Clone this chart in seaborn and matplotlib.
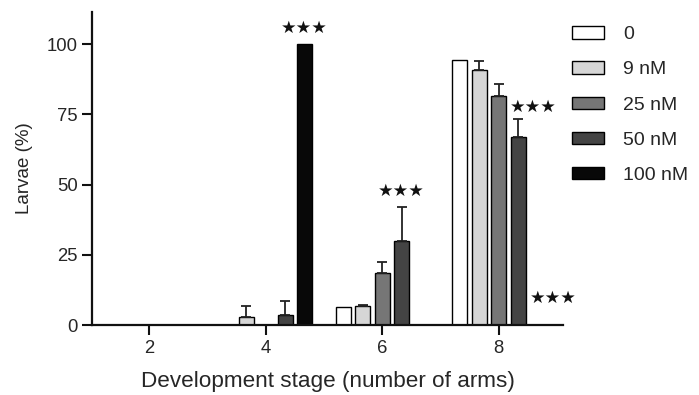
import matplotlib
matplotlib.use("Agg")
import matplotlib.pyplot as plt
import seaborn as sns
import pandas as pd

# Percentage of larvae at each developmental stage per treatment
stages = ["2", "4", "6", "8"]
concentrations = ["0", "9 nM", "25 nM", "50 nM", "100 nM"]
larvae_0 = [0.0, 0.0, 6.3, 94.3]
larvae_9 = [0.0, 3.0, 6.6, 90.7]
larvae_25 = [0.0, 0.0, 18.4, 81.7]
larvae_50 = [0.0, 3.4, 30.0, 66.8]
larvae_100 = [0.0, 100.0, 0.0, 0.0]
sem_0 = [0.0, 0.0, 0.0, 0.0]
sem_9 = [0.0, 3.8, 0.6, 3.3]
sem_25 = [0.0, 0.0, 4.1, 4.3]
sem_50 = [0.0, 5.2, 12.1, 6.7]
sem_100 = [0.0, 0.0, 0.0, 0.0]
# significance marks: (stage, concentration, placement)
significance = [("4", "100 nM", "above"), ("6", "50 nM", "above"),
                ("8", "25 nM", "right"), ("8", "100 nM", "base")]

palette = ["#ffffff", "#d6d6d6", "#767676", "#444444", "#080808"]

values = [larvae_0, larvae_9, larvae_25, larvae_50, larvae_100]
errors = [sem_0, sem_9, sem_25, sem_50, sem_100]
rows = []
for conc, vals, errs in zip(concentrations, values, errors):
    for st, v, e in zip(stages, vals, errs):
        rows.append({"stage": st, "conc": conc, "pct": v, "err": e})
df = pd.DataFrame(rows)

sns.set_style("ticks")
plt.rcParams["font.family"] = ["Liberation Sans", "DejaVu Sans"]

fig = plt.figure(figsize=(6.99, 3.95), dpi=100)
ax = fig.add_axes([0.1316, 0.1772, 0.6738, 0.7924])

sns.barplot(data=df, x="stage", y="pct", hue="conc", order=stages,
            hue_order=concentrations, palette=palette, width=0.835, gap=0.23,
            edgecolor="black", linewidth=1.0, errorbar=None, ax=ax)

# one-sided (upper) error bars
bar_pos = {}
for conc, cont in zip(concentrations, ax.containers):
    for st, patch in zip(stages, cont.patches):
        cx = patch.get_x() + patch.get_width() / 2
        bar_pos[(st, conc)] = (patch.get_x(), patch.get_width())
        row = df[(df["stage"] == st) & (df["conc"] == conc)].iloc[0]
        if row["err"] > 0:
            ax.errorbar(cx, row["pct"], yerr=[[0], [row["err"]]], fmt="none",
                        ecolor="#222222", elinewidth=1.3, capsize=3.5,
                        capthick=1.3, zorder=1)

star_kw = dict(fontsize=12.5, family="DejaVu Sans", color="#111111")
for st, conc, where in significance:
    x0, w = bar_pos[(st, conc)]
    row = df[(df["stage"] == st) & (df["conc"] == conc)].iloc[0]
    top = row["pct"] + row["err"]
    if where == "above":
        ax.text(x0 + w / 2, top + 2.5, "★★★", ha="center", va="bottom", **star_kw)
    elif where == "right":
        ax.text(x0 + w + 0.03, row["pct"] - 4, "★★★", ha="left", va="center", **star_kw)
    else:
        ax.text(x0, 9.6, "★★★", ha="left", va="center", **star_kw)

ax.set_xlim(-0.49, 3.55)
ax.set_ylim(0, 111.5)
ax.set_yticks([0, 25, 50, 75, 100])
ax.set_xlabel("Development stage (number of arms)", fontsize=16.2, labelpad=10)
ax.set_ylabel("Larvae (%)", fontsize=13.5, labelpad=10)
ax.tick_params(axis="both", labelsize=13.3, width=1.5, length=7, color="#111111")
ax.tick_params(axis="y", pad=3)
ax.tick_params(axis="x", pad=4)
for side in ("left", "bottom"):
    ax.spines[side].set_linewidth(1.6)
    ax.spines[side].set_color("#111111")
sns.despine(ax=ax)

sns.move_legend(ax, loc="upper left", bbox_to_anchor=(0.807, 0.953),
                bbox_transform=fig.transFigure, frameon=False, title=None,
                fontsize=14, handlelength=1.65, handleheight=0.6,
                handletextpad=0.98, labelspacing=0.93, borderaxespad=0)

fig.savefig("out.png", dpi=100)
